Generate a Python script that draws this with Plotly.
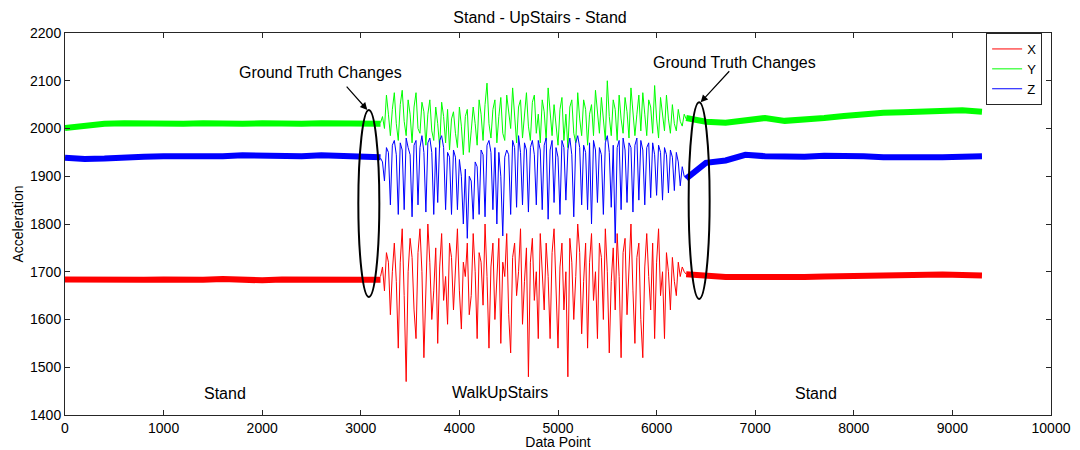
import numpy as np
import plotly.graph_objects as go

# ---------------- data ----------------
stand_left_start, stand_left_step = 0, 200
walk_start, walk_step = 3200, 20
stand_right_start, stand_right_step = 6300, 200

x_stand_left = [1684, 1683, 1685, 1682, 1683, 1684, 1682, 1683, 1685, 1683, 1682, 1684, 1683, 1682, 1684, 1683, 1683]
y_stand_left = [2001, 2007, 2010, 2011, 2010, 2009, 2010, 2011, 2009, 2010, 2011, 2009, 2010, 2011, 2010, 2011, 2010]
z_stand_left = [1939, 1936, 1937, 1940, 1941, 1942, 1941, 1943, 1942, 1944, 1943, 1945, 1942, 1944, 1942, 1941, 1940]

x_walk = [
    1690, 1710, 1660, 1740, 1720, 1610, 1700, 1760, 1680, 1540, 1720, 1790,
    1650, 1470, 1700, 1770, 1730, 1620, 1560, 1740, 1790, 1700, 1520, 1690,
    1800, 1720, 1600, 1660, 1750, 1550, 1710, 1780, 1640, 1690, 1590, 1760,
    1730, 1620, 1700, 1790, 1660, 1580, 1720, 1690, 1760, 1610, 1650, 1780,
    1700, 1560, 1740, 1720, 1630, 1800, 1690, 1540, 1710, 1760, 1600, 1680,
    1770, 1550, 1720, 1690, 1780, 1610, 1530, 1730, 1760, 1650, 1700, 1790,
    1590, 1680, 1750, 1480, 1720, 1770, 1640, 1700, 1560, 1780, 1710, 1620,
    1760, 1690, 1560, 1740, 1790, 1650, 1540, 1710, 1760, 1620, 1700, 1480,
    1770, 1720, 1600, 1690, 1800, 1740, 1570, 1680, 1760, 1540, 1720, 1780,
    1640, 1700, 1560, 1760, 1730, 1600, 1790, 1700, 1530, 1680, 1750, 1620,
    1780, 1690, 1520, 1740, 1770, 1610, 1720, 1800, 1660, 1550, 1730, 1760,
    1600, 1520, 1710, 1780, 1690, 1620, 1760, 1560, 1720, 1790, 1650, 1700,
    1560, 1740, 1700, 1620, 1730, 1680, 1650, 1720, 1690, 1710, 1700, 1695,
]
y_walk = [
    2012, 2025, 2000, 2070, 2030, 1985, 2040, 2075, 2010, 1975, 2050, 2080,
    2015, 1985, 2060, 2030, 1970, 2045, 2075, 2000, 1990, 2055, 2035, 1965,
    2030, 2060, 1995, 1975, 2045, 2010, 1960, 2055, 2025, 1970, 2040, 1955,
    2020, 2035, 1990, 1960, 2045, 2005, 1945, 2025, 2040, 1950, 1995, 2045,
    2010, 1965, 2060, 2030, 1975, 2050, 2095, 2010, 1980, 2040, 2060, 1970,
    2025, 2065, 1990, 1975, 2070, 2030, 2000, 2085, 2020, 1970, 2045, 2060,
    1980, 2030, 2075, 2005, 1975, 2055, 2070, 1990, 2030, 1970, 2060, 2035,
    1975, 2085, 2025, 1985, 2050, 2010, 1965, 2040, 2065, 1975, 2030, 1960,
    2045, 2060, 1990, 1970, 2075, 2020, 1985, 2060, 2040, 1965, 2030, 2050,
    1985, 2080, 2030, 1990, 2065, 2015, 1975, 2100, 2025, 1985, 2060, 2040,
    1975, 2070, 2020, 1990, 2065, 2035, 1980, 2085, 2040, 1985, 2030, 2070,
    1995, 2075, 2030, 1985, 2060, 2045, 1990, 2090, 2020, 1980, 2065, 2035,
    1995, 2070, 2020, 1990, 2050, 2010, 1995, 2040, 2015, 2005, 2030, 2020,
]
z_walk = [
    1938, 1930, 1890, 1960, 1950, 1840, 1965, 1975, 1945, 1820, 1970, 1955,
    1830, 1980, 1960, 1945, 1815, 1965, 1975, 1840, 1960, 1985, 1950, 1825,
    1970, 1980, 1950, 1820, 1960, 1845, 1975, 1985, 1960, 1830, 1950, 1940,
    1820, 1955, 1940, 1830, 1935, 1900, 1800, 1915, 1770, 1900, 1890, 1810,
    1930, 1920, 1820, 1955, 1945, 1815, 1965, 1975, 1950, 1830, 1960, 1800,
    1950, 1900, 1775, 1940, 1955, 1945, 1820, 1975, 1960, 1835, 1985, 1950,
    1840, 1970, 1955, 1825, 1960, 1975, 1945, 1840, 1975, 1955, 1830, 1965,
    1980, 1810, 1955, 1975, 1845, 1960, 1940, 1820, 1975, 1960, 1850, 1955,
    1980, 1945, 1815, 1970, 1985, 1960, 1840, 1965, 1950, 1830, 1970, 1800,
    1975, 1955, 1845, 1960, 1945, 1820, 1970, 1985, 1950, 1835, 1965, 1760,
    1960, 1975, 1830, 1980, 1955, 1845, 1970, 1960, 1825, 1965, 1980, 1850,
    1975, 1955, 1840, 1960, 1970, 1855, 1970, 1945, 1860, 1965, 1950, 1850,
    1960, 1945, 1865, 1955, 1940, 1870, 1950, 1930, 1880, 1920, 1900, 1895,
]

x_stand_right = [1695, 1691, 1689, 1689, 1688, 1688, 1689, 1690, 1691, 1692, 1693, 1692, 1693, 1694, 1693, 1692]
y_stand_right = [2022, 2014, 2012, 2018, 2022, 2016, 2018, 2022, 2026, 2030, 2033, 2034, 2036, 2037, 2038, 2035]
z_stand_right = [1895, 1928, 1933, 1945, 1942, 1940, 1941, 1943, 1944, 1942, 1940, 1939, 1938, 1940, 1941, 1942]

series_names = ["X", "Y", "Z"]
series_colors = ["#FF0000", "#00FF00", "#0000FF"]

x_tick_values = [0, 1000, 2000, 3000, 4000, 5000, 6000, 7000, 8000, 9000, 10000]
y_tick_values = [1400, 1500, 1600, 1700, 1800, 1900, 2000, 2100, 2200]

region_labels = ["Stand", "WalkUpStairs", "Stand"]
region_label_x = [1624, 4416, 7614]
region_label_y = [1446, 1448, 1444]

annot_text = "Ground Truth Changes"
annot_text_x = [2589, 6792]
annot_text_y = [2118, 2139]
arrow_tail_x = [2843, 6751]
arrow_tail_y = [2091, 2123]
arrow_tip_x = [3066, 6447]
arrow_tip_y = [2039, 2055]
ellipse_x0 = [2975, 6325]
ellipse_x1 = [3188, 6538]
ellipse_y0 = [1647, 1643]
ellipse_y1 = [2039, 2055]

# ---------------- figure ----------------
FONT = "Liberation Sans, Arial, sans-serif"
fig = go.Figure()

stand_l = [x_stand_left, y_stand_left, z_stand_left]
walks = [x_walk, y_walk, z_walk]
stand_r = [x_stand_right, y_stand_right, z_stand_right]

for name, col, sl, wk, sr in zip(series_names, series_colors, stand_l, walks, stand_r):
    idx_l = stand_left_start + stand_left_step * np.arange(len(sl))
    idx_w = walk_start + walk_step * np.arange(len(wk))
    idx_r = stand_right_start + stand_right_step * np.arange(len(sr))
    fig.add_trace(go.Scatter(x=idx_l, y=sl, mode="lines", line=dict(color=col, width=6),
                             showlegend=False, hoverinfo="skip"))
    fig.add_trace(go.Scatter(x=idx_w, y=wk, mode="lines", line=dict(color=col, width=1),
                             name=name))
    fig.add_trace(go.Scatter(x=idx_r, y=sr, mode="lines", line=dict(color=col, width=6),
                             showlegend=False, hoverinfo="skip"))

for i in range(2):
    fig.add_shape(type="circle", xref="x", yref="y",
                  x0=ellipse_x0[i], x1=ellipse_x1[i], y0=ellipse_y0[i], y1=ellipse_y1[i],
                  line=dict(color="black", width=2))
    fig.add_annotation(x=annot_text_x[i], y=annot_text_y[i], text=annot_text, showarrow=False,
                       font=dict(family=FONT, size=16, color="black"))
    fig.add_annotation(x=arrow_tip_x[i], y=arrow_tip_y[i], ax=arrow_tail_x[i], ay=arrow_tail_y[i],
                       axref="x", ayref="y", text="", showarrow=True,
                       arrowhead=2, arrowsize=1.2, arrowwidth=1.2, arrowcolor="black")

for t, lx, ly in zip(region_labels, region_label_x, region_label_y):
    fig.add_annotation(x=lx, y=ly, text=t, showarrow=False,
                       font=dict(family=FONT, size=16, color="black"))

axis_common = dict(showgrid=False, zeroline=False, showline=True, linecolor="#262626", linewidth=1,
                   mirror="ticks", ticks="inside", ticklen=5, tickcolor="#262626", automargin=False,
                   tickfont=dict(family=FONT, size=14, color="black"))

fig.update_layout(
    width=1080, height=450,
    margin=dict(l=65, r=29, t=33, b=35),
    paper_bgcolor="white", plot_bgcolor="white",
    title=dict(text="Stand - UpStairs - Stand", x=0.5, xanchor="center", y=0.962, yanchor="middle",
               font=dict(family=FONT, size=16, color="black")),
    xaxis=dict(range=[0, 10000], tickmode="array", tickvals=x_tick_values,
               ticktext=[str(v) for v in x_tick_values],
               title=dict(text="Data Point", standoff=5, font=dict(family=FONT, size=14, color="black")),
               **axis_common),
    yaxis=dict(range=[1400, 2200], tickmode="array", tickvals=y_tick_values,
               ticktext=[str(v) for v in y_tick_values],
               title=dict(text="Acceleration", standoff=3, font=dict(family=FONT, size=14, color="black")),
               **axis_common),
    legend=dict(x=0.991, xanchor="right", y=1.0, yanchor="top", bgcolor="white",
                bordercolor="#262626", borderwidth=1, font=dict(family=FONT, size=13, color="black"),
                itemwidth=30, tracegroupgap=0),
    showlegend=True,
)

fig.write_html("out.html")
